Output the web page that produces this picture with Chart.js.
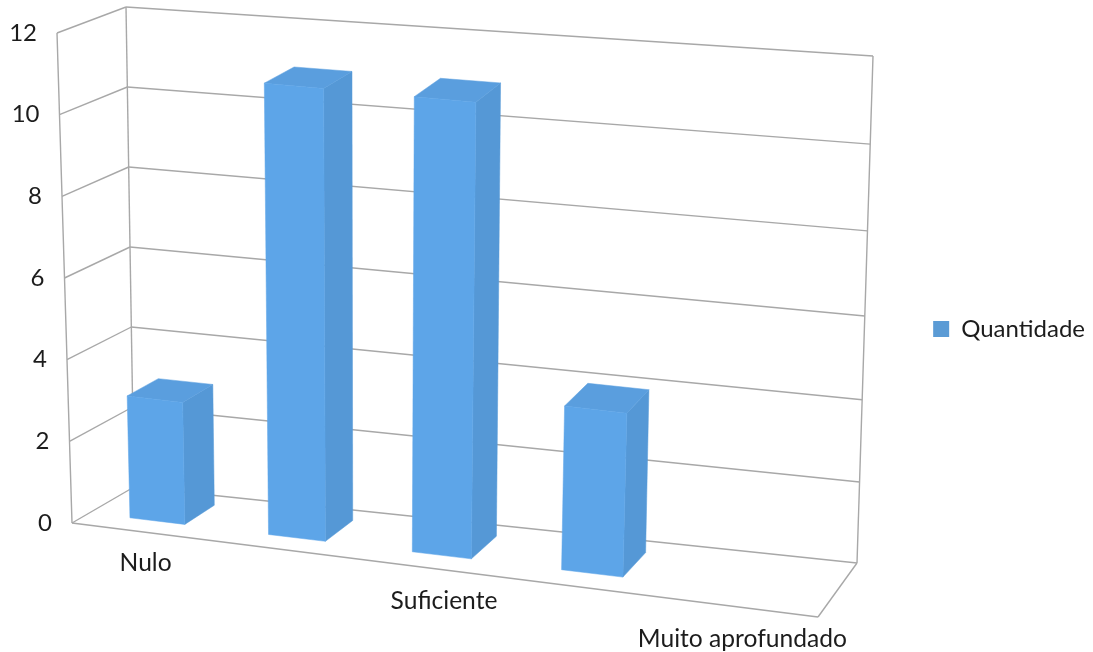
<!DOCTYPE html>
<html>
<head>
<meta charset="utf-8">
<title>Quantidade</title>
<style>
    html, body { margin: 0; padding: 0; background: #fff; overflow: hidden; }
    #box { width: 1093px; height: 652px; }
</style>
<script src="https://cdn.jsdelivr.net/npm/chart.js@4"></script>
</head>
<body>
<div id="box"><canvas id="chart"></canvas></div>
<script>
    var categories = ['Nulo', '', 'Suficiente', '', 'Muito aprofundado'];
    var quantidade = [3, 11, 11, 4, 0];
    var yTicks = [0, 2, 4, 6, 8, 10, 12];

    var FONT = '"Lato", "Open Sans", sans-serif';
    var GRID = '#a8a8a8';
    var TEXT = '#1c1c1c';
    var FRONT = '#5da5e8';
    var SIDE = '#5598d6';
    var TOP = '#5a9ede';

    // Corners of the 3D box on screen: [u][height][depth]
    var CORNERS = {
        '000': [72, 523],  '100': [818, 617],
        '001': [134, 487], '101': [857, 563],
        '010': [57, 33],   '110': [842, 105],
        '011': [126, 7],   '111': [873, 56]
    };
    var BAR_FRONT = 0.28;
    var BAR_BACK = 0.78;
    var U_PERSPECTIVE = 0.09;
    var V_PERSPECTIVE = 0.05;

    function lerp(a, b, t) {
        return a + (b - a) * t;
    }

    // Foreshortening along an edge, k = 0 leaves it linear
    function foreshorten(t, k) {
        return t * (1 - k) / (1 - k * t);
    }

    // Trilinear map from unit box coordinates to the canvas
    function project(u, v, d) {
        var h = foreshorten(v, V_PERSPECTIVE * u);
        var out = [0, 1].map(function(k) {
            var b0 = lerp(lerp(CORNERS['000'][k], CORNERS['100'][k], u), lerp(CORNERS['001'][k], CORNERS['101'][k], u), d);
            var b1 = lerp(lerp(CORNERS['010'][k], CORNERS['110'][k], u), lerp(CORNERS['011'][k], CORNERS['111'][k], u), d);
            return lerp(b0, b1, h);
        });
        return { x: out[0], y: out[1] };
    }

    function line(ctx, a, b) {
        ctx.beginPath();
        ctx.moveTo(a.x, a.y);
        ctx.lineTo(b.x, b.y);
        ctx.stroke();
    }

    function face(ctx, pts, color) {
        ctx.fillStyle = color;
        ctx.strokeStyle = color;
        ctx.lineWidth = 0.5;
        ctx.beginPath();
        pts.forEach(function(p, i) {
            if (i === 0) ctx.moveTo(p.x, p.y);
            else ctx.lineTo(p.x, p.y);
        });
        ctx.closePath();
        ctx.fill();
        ctx.stroke();
    }

    var box3d = {
        id: 'box3d',
        beforeDatasetsDraw: function(chart) {
            var ctx = chart.ctx;
            var area = chart.chartArea;
            var xScale = chart.scales.x;
            var yScale = chart.scales.y;
            var toU = function(px) { return (px - area.left) / (area.right - area.left); };
            var toV = function(py) { return (area.bottom - py) / (area.bottom - area.top); };

            ctx.save();

            // Walls and floor
            ctx.strokeStyle = GRID;
            ctx.lineWidth = 1.4;
            yScale.ticks.forEach(function(tick) {
                var v = toV(yScale.getPixelForValue(tick.value));
                line(ctx, project(0, v, 0), project(0, v, 1));
                line(ctx, project(0, v, 1), project(1, v, 1));
            });
            line(ctx, project(0, 0, 0), project(0, 1, 0));
            line(ctx, project(0, 0, 1), project(0, 1, 1));
            line(ctx, project(1, 0, 1), project(1, 1, 1));
            line(ctx, project(0, 0, 0), project(1, 0, 0));
            line(ctx, project(1, 0, 0), project(1, 0, 1));

            // Bars, from the positions the library computed
            chart.getDatasetMeta(0).data.forEach(function(bar, i) {
                if (!quantidade[i]) return;
                var u0 = foreshorten(toU(bar.x - bar.width / 2), U_PERSPECTIVE);
                var u1 = foreshorten(toU(bar.x + bar.width / 2), U_PERSPECTIVE);
                var top = toV(bar.y);
                var p = project;
                face(ctx, [p(u1, 0, BAR_FRONT), p(u1, 0, BAR_BACK), p(u1, top, BAR_BACK), p(u1, top, BAR_FRONT)], SIDE);
                face(ctx, [p(u0, top, BAR_FRONT), p(u1, top, BAR_FRONT), p(u1, top, BAR_BACK), p(u0, top, BAR_BACK)], TOP);
                face(ctx, [p(u0, 0, BAR_FRONT), p(u1, 0, BAR_FRONT), p(u1, top, BAR_FRONT), p(u0, top, BAR_FRONT)], FRONT);
            });

            // Axis labels follow the slanted edges
            ctx.fillStyle = TEXT;
            ctx.font = '24px ' + FONT;
            ctx.textAlign = 'right';
            ctx.textBaseline = 'middle';
            yScale.ticks.forEach(function(tick) {
                var pos = project(0, toV(yScale.getPixelForValue(tick.value)), 0);
                ctx.fillText(tick.label, pos.x - 20, pos.y);
            });
            ctx.font = '24.6px ' + FONT;
            ctx.textAlign = 'center';
            categories.forEach(function(name, i) {
                if (!name) return;
                var pos = project(toU(xScale.getPixelForValue(i)), 0, 0);
                ctx.fillText(name, pos.x - 1, pos.y + 31);
            });

            ctx.restore();
            return false;
        }
    };

    new Chart(document.getElementById('chart'), {
        type: 'bar',
        data: {
            labels: categories,
            datasets: [{
                label: 'Quantidade',
                data: quantidade,
                backgroundColor: '#5b9bd5',
                categoryPercentage: 1,
                barPercentage: 0.4
            }]
        },
        options: {
            responsive: true,
            maintainAspectRatio: false,
            animation: false,
            layout: { padding: { right: -2, top: 6 } },
            scales: {
                x: { display: false },
                y: {
                    display: false,
                    min: yTicks[0],
                    max: yTicks[yTicks.length - 1],
                    ticks: { stepSize: 2 }
                }
            },
            plugins: {
                tooltip: { enabled: false },
                legend: {
                    position: 'right',
                    labels: {
                        color: TEXT,
                        boxWidth: 16,
                        boxHeight: 16,
                        padding: 5,
                        font: { family: FONT, size: 24 }
                    }
                }
            }
        },
        plugins: [box3d]
    });
</script>
</body>
</html>
